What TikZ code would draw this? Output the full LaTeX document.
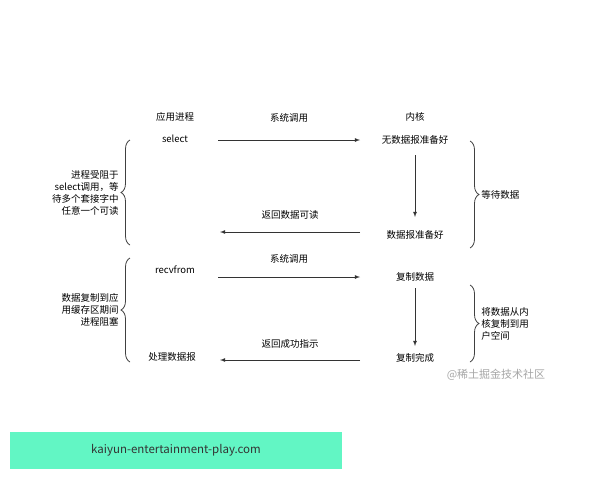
\documentclass[tikz,border=0pt]{standalone}
\usepackage{fontspec}
\setmainfont{Noto Sans CJK SC}
\usetikzlibrary{decorations.pathreplacing}
\definecolor{banner}{RGB}{98,246,196}
\tikzset{
  lbl/.style={font=\fontsize{9.5}{12}\selectfont, inner sep=1pt},
  flow/.style={thick, -latex, draw=black!80},
  brc/.style={decorate, decoration={brace, amplitude=9pt}, draw=black!75, thick},
}
\begin{document}
\begin{tikzpicture}[x=1pt,y=-1pt]
\useasboundingbox (0,0) rectangle (600,480);
%\draw[step=20,gray,very thin] (0,0) grid (600,480); %background grid

% process side
\node[lbl] (proc)  at (175,117) {应用进程};
\node[lbl] (sel)   at (175,139) {select};
\node[lbl] (recv)  at (175,270) {recvfrom};
\node[lbl] (handle) at (172,357) {处理数据报};

% kernel side
\node[lbl] (kern)  at (415,117) {内核};
\node[lbl] (nodata) at (415,140) {无数据报准备好};
\node[lbl] (ready) at (415,235) {数据报准备好};
\node[lbl] (copy)  at (415,277) {复制数据};
\node[lbl] (done)  at (415,358) {复制完成};

% calls and returns
\coordinate (a1) at (218,140); \coordinate (b1) at (360,140);
\coordinate (a2) at (220,232); \coordinate (b2) at (360,232);
\coordinate (a3) at (218,277); \coordinate (b3) at (360,277);
\coordinate (a4) at (220,360); \coordinate (b4) at (360,360);
\draw[flow] (a1) -- (b1) node[lbl, midway, above=16pt] (call1) {系统调用};
\draw[flow] (b2) -- (a2) node[lbl, midway, above=11pt] (ret1) {返回数据可读};
\draw[flow] (a3) -- (b3) node[lbl, midway, above=12pt] (call2) {系统调用};
\draw[flow] (b4) -- (a4) node[lbl, midway, above=10pt] (ret2) {返回成功指示};

% kernel steps
\draw[flow] (415,155) -- (415,217);
\draw[flow] (415,288) -- (415,346);

% braces
\draw[brc] (130,245) -- (130,140) node[lbl, midway, left=10pt, align=right] (wait1)
  {进程受阻于\\select调用，等\\待多个套接字中\\任意一个可读};
\draw[brc] (130,362) -- (130,258) node[lbl, midway, left=10pt, align=right] (wait2)
  {数据复制到应\\用缓存区期间\\进程阻塞};
\draw[brc] (470,141) -- (470,248) node[lbl, midway, right=10pt] (wait3) {等待数据};
\draw[brc] (470,285) -- (470,362) node[lbl, midway, right=10pt, align=left] (wait4)
  {将数据从内\\核复制到用\\户空间};

% watermark and banner
\node[font=\fontsize{11}{13}\selectfont, text=black!35] (mark) at (496,375) {@稀土掘金技术社区};
\fill[banner] (10,432) rectangle (342,469);
\node[font=\fontsize{11.5}{13}\selectfont, text=black!80] (site) at (176,450) {kaiyun-entertainment-play.com};
\end{tikzpicture}
\end{document}
